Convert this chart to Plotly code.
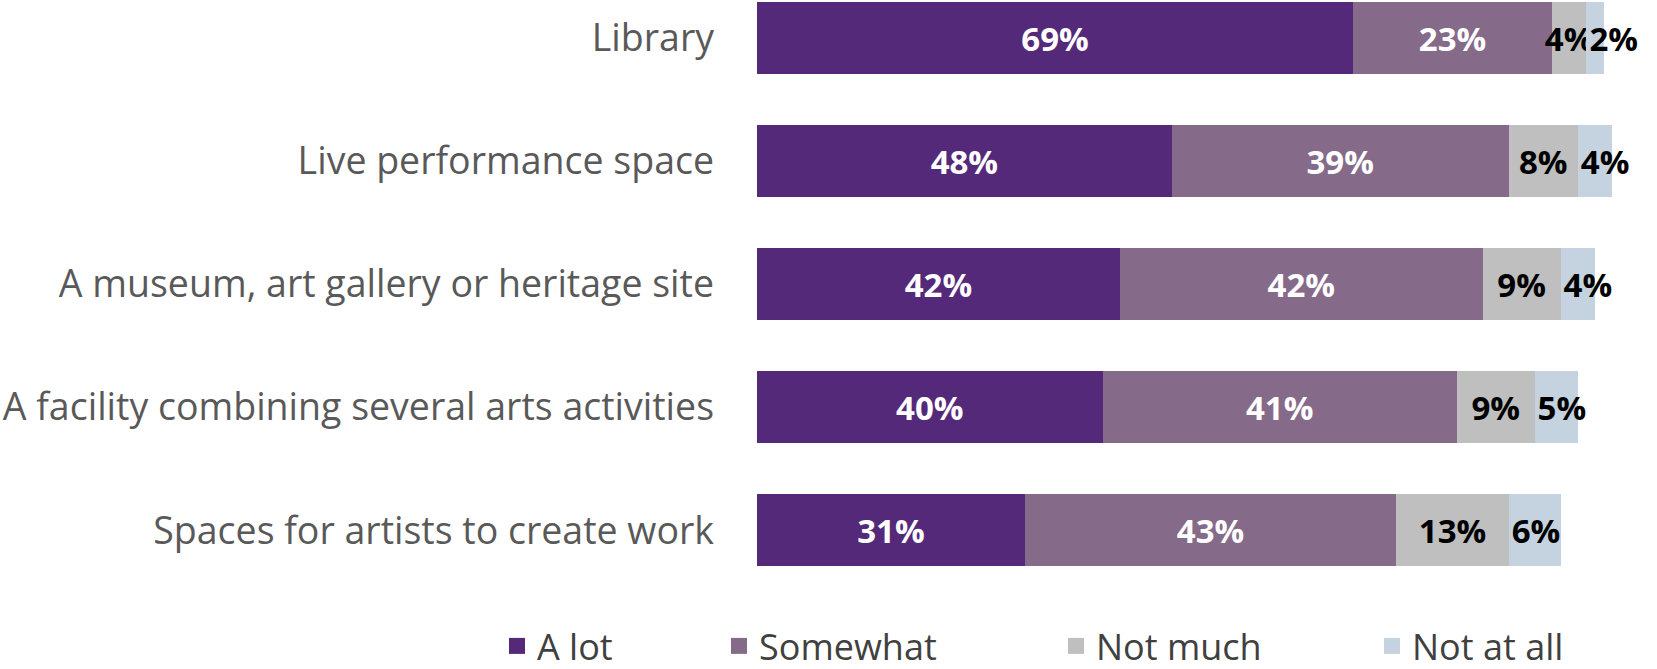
import plotly.graph_objects as go

categories = [
    "Library",
    "Live performance space",
    "A museum, art gallery or heritage site",
    "A facility combining several arts activities",
    "Spaces for artists to create work",
]
series_names = ["A lot", "Somewhat", "Not much", "Not at all"]
a_lot = [69, 48, 42, 40, 31]
somewhat = [23, 39, 42, 41, 43]
not_much = [4, 8, 9, 9, 13]
not_at_all = [2, 4, 4, 5, 6]

colors = ["#55297A", "#866A89", "#BFBFBF", "#C4D3DF"]
label_colors = ["white", "white", "black", "black"]
label_anchor = ["middle", "middle", "middle", "start"]

W, H = 1657, 669
plot_left, plot_right = 757, 1621
plot_top, plot_bottom = 0, 575
legend_px = [497, 719, 1056, 1372]   # left edge of each legend entry (px)
legend_ids = ["legend", "legend2", "legend3", "legend4"]

fig = go.Figure()
for name, vals, col, lc, anc in zip(series_names, [a_lot, somewhat, not_much, not_at_all],
                                    colors, label_colors, label_anchor):
    fig.add_trace(go.Bar(
        name=name,
        y=categories,
        x=vals,
        orientation="h",
        marker=dict(color=col, line=dict(width=0)),
        text=[f"{v}%" for v in vals],
        textposition="inside",
        insidetextanchor=anc,
        textangle=0,
        constraintext="none",
        textfont=dict(family="Open Sans", size=33, color=lc, weight="bold"),
        cliponaxis=False,
        hoverinfo="skip",
        showlegend=False,
    ))

# legend entries (one legend per series so spacing matches the reference)
for name, col, lid in zip(series_names, colors, legend_ids):
    fig.add_trace(go.Scatter(
        name=name, x=[None], y=[None], mode="markers",
        marker=dict(symbol="square", size=16, color=col),
        legend=lid, showlegend=True, hoverinfo="skip",
    ))

legend_common = dict(
    orientation="h",
    xref="container", yref="container",
    yanchor="middle", y=(H - 646) / H,
    xanchor="left",
    font=dict(family="Open Sans", size=36, color="#404040"),
    bgcolor="rgba(0,0,0,0)",
    itemwidth=30,
)

layout_legends = {}
for lid, px in zip(legend_ids, legend_px):
    layout_legends[lid] = dict(legend_common, x=px / W)

fig.update_layout(
    barmode="stack",
    bargap=0.416,
    width=W, height=H,
    margin=dict(l=plot_left, r=W - plot_right, t=plot_top, b=H - plot_bottom, pad=0, autoexpand=False),
    paper_bgcolor="white",
    plot_bgcolor="white",
    showlegend=True,
    uniformtext=dict(minsize=33, mode="show"),
    **layout_legends,
)
fig.update_xaxes(range=[0, 100], visible=False, fixedrange=True)
fig.update_yaxes(
    type="category",
    categoryorder="array",
    categoryarray=categories,
    range=[4.362, -0.309],
    autorange=False,
    automargin=False,
    showgrid=False,
    zeroline=False,
    showline=False,
    ticks="",
    ticklabelstandoff=42,
    tickfont=dict(family="Open Sans", size=37.5, color="#595959"),
)

fig.write_html(
    "out.html",
    config={"displayModeBar": False},
    post_script="document.body.style.margin='0';document.body.style.overflow='hidden';",
)
